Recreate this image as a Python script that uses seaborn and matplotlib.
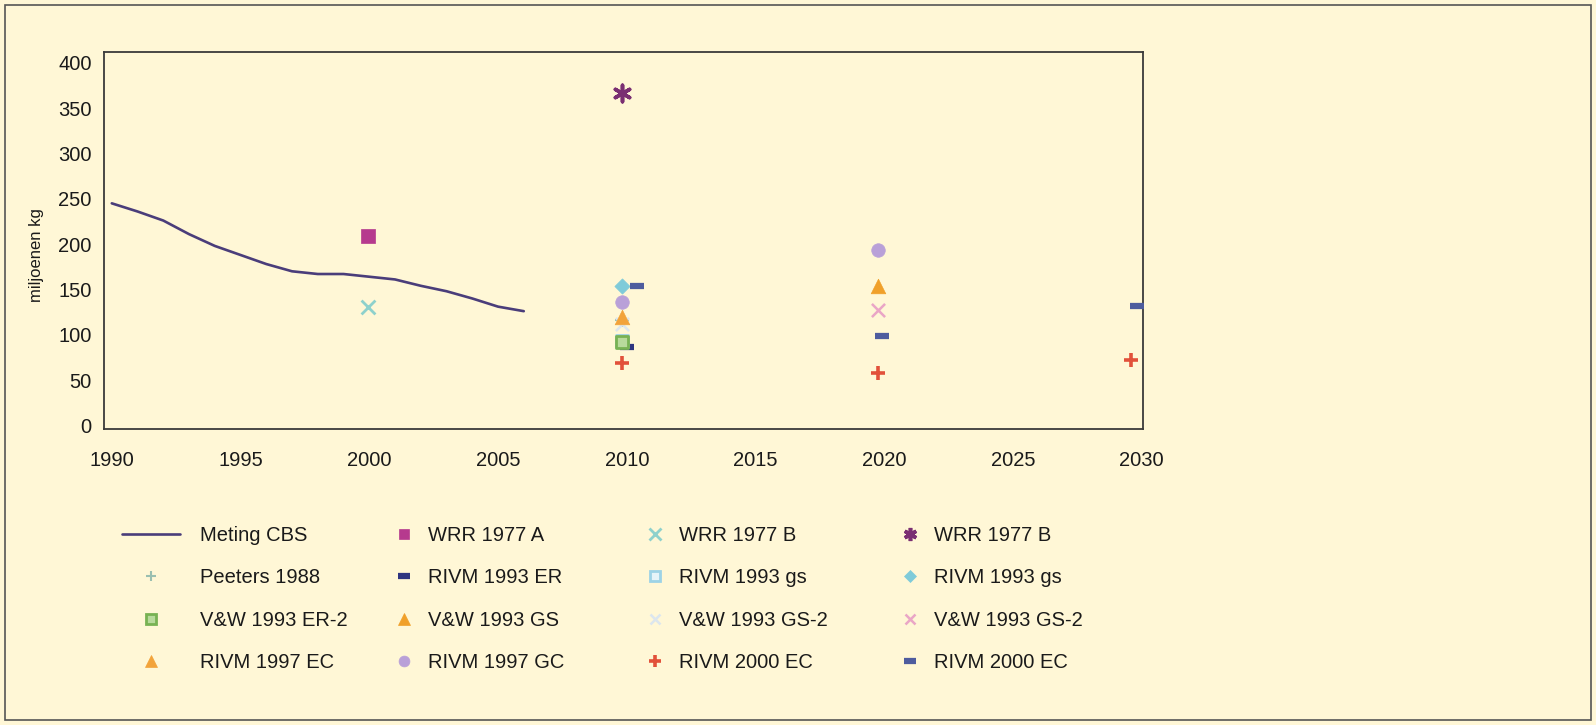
import matplotlib
matplotlib.use("Agg")
import matplotlib.pyplot as plt
import seaborn as sns
from matplotlib.lines import Line2D
from matplotlib.patches import Rectangle

# measured series (Meting CBS)
cbs_years = list(range(1990, 2007))
cbs_values = [245, 236, 226, 211, 198, 188, 178, 170, 167, 167, 164, 161, 154, 148, 140, 131, 126]

# scenario points
wrr_a_x, wrr_a_y = [1999.95], [209]
wrr_b1_x, wrr_b1_y = [1999.95], [131]
wrr_b2_x, wrr_b2_y = [2009.8], [367]
peeters_x, peeters_y = [2009.8], [116]
rivm93_er_x, rivm93_er_y = [2010.0], [86]
rivm93_gs1_x, rivm93_gs1_y = [2009.8], [93]
rivm93_gs2_x, rivm93_gs2_y = [2009.8], [154]
vw93_er2_x, vw93_er2_y = [2009.8], [92]
vw93_gs_x, vw93_gs_y = [2019.75], [154]
vw93_gs2a_x, vw93_gs2a_y = [2009.8], [112]
vw93_gs2b_x, vw93_gs2b_y = [2019.75], [127]
rivm97_ec_x, rivm97_ec_y = [2009.8], [120]
rivm97_gc_x, rivm97_gc_y = [2009.8, 2019.75], [136, 194]
rivm00_ec1_x, rivm00_ec1_y = [2009.8, 2019.75, 2029.6], [69, 58, 72]
rivm00_ec2_x, rivm00_ec2_y = [2010.4, 2019.9, 2029.8], [154, 99, 132]

labels = ["Meting CBS", "WRR 1977 A", "WRR 1977 B", "WRR 1977 B",
          "Peeters 1988", "RIVM 1993 ER", "RIVM 1993 gs", "RIVM 1993 gs",
          "V&W 1993 ER-2", "V&W 1993 GS", "V&W 1993 GS-2", "V&W 1993 GS-2",
          "RIVM 1997 EC", "RIVM 1997 GC", "RIVM 2000 EC", "RIVM 2000 EC"]

bg = "#FFF7D6"
line_col = "#4A3D7A"

# marker styles: (x, y, marker, size, face, edge, lw)
points = [
    (wrr_a_x, wrr_a_y, "s", 88, "#B63A8E", "#B63A8E", 0.5),
    (wrr_b1_x, wrr_b1_y, "x", 100, "#8ED1CC", None, 2.0),
    (wrr_b2_x, wrr_b2_y, (6, 2, 0), 140, "#7A2F72", None, 2.6),
    (peeters_x, peeters_y, "+", 90, "#9ABFB0", None, 1.5),
    (rivm93_er_x, rivm93_er_y, "_", 110, "#2E3580", None, 4.5),
    (rivm93_gs1_x, rivm93_gs1_y, "s", 80, "#E6F4F8", "#9DD3E6", 2.0),
    (rivm93_gs2_x, rivm93_gs2_y, "D", 60, "#7FCBD9", "#7FCBD9", 0.5),
    (vw93_er2_x, vw93_er2_y, "s", 80, "#B8DA9C", "#78B253", 2.0),
    (vw93_gs_x, vw93_gs_y, "^", 110, "#F0A02A", "#F0A02A", 0.5),
    (vw93_gs2a_x, vw93_gs2a_y, "x", 90, "#DCE6EE", None, 1.8),
    (vw93_gs2b_x, vw93_gs2b_y, "x", 90, "#EAA6C6", None, 1.8),
    (rivm97_ec_x, rivm97_ec_y, "^", 110, "#F2A33A", "#F2A33A", 0.5),
    (rivm97_gc_x, rivm97_gc_y, "o", 95, "#B9A0D8", "#B9A0D8", 0.5),
    (rivm00_ec1_x, rivm00_ec1_y, "+", 110, "#E2513A", None, 2.6),
    (rivm00_ec2_x, rivm00_ec2_y, "_", 110, "#4E5C9E", None, 4.5),
]

sns.set_style("white")
plt.rcParams["font.family"] = ["Liberation Sans", "DejaVu Sans"]

fig = plt.figure(figsize=(15.96, 7.25), dpi=100, facecolor=bg)
ax = fig.add_axes([0.0652, 0.4083, 0.6510, 0.5200])
ax.set_facecolor(bg)

sns.lineplot(x=cbs_years, y=cbs_values, color=line_col, linewidth=1.9, ax=ax)

handles = [Line2D([], [], color=line_col, linewidth=1.9)]
for x, y, m, s, fc, ec, lw in points:
    if ec is None:
        sns.scatterplot(x=x, y=y, marker=m, s=s, color=fc, linewidth=lw, ax=ax, zorder=3)
        handles.append(Line2D([], [], linestyle="none", marker=m, markersize=s ** 0.5 * 0.8,
                              color=fc, markeredgewidth=lw))
    else:
        sns.scatterplot(x=x, y=y, marker=m, s=s, color=fc, edgecolor=ec, linewidth=lw, ax=ax, zorder=3)
        handles.append(Line2D([], [], linestyle="none", marker=m, markersize=s ** 0.5 * 0.8,
                              markerfacecolor=fc, markeredgecolor=ec, markeredgewidth=lw))

ax.set_xlim(1989.7, 2030.05)
ax.set_ylim(-4, 412)
ax.set_xticks(range(1990, 2031, 5))
ax.set_yticks(range(0, 401, 50))
ax.tick_params(axis="both", length=0, labelsize=14.5, colors="#1a1a1a")
ax.tick_params(axis="y", pad=9)
ax.tick_params(axis="x", pad=16)
for sp in ax.spines.values():
    sp.set_visible(True)
    sp.set_color("#3a3a3a")
    sp.set_linewidth(1.3)
ax.set_xlabel("")
ax.set_ylabel("miljoenen kg", fontsize=12, color="#1a1a1a")
ax.yaxis.set_label_coords(-0.058, 0.46)

# legend: one block per column
W, H = 1596, 725
leg_font = {"family": ["Liberation Sans Narrow", "Liberation Sans", "DejaVu Sans"], "size": 14.5}
col_x = [122, 394, 645, 900]
for c in range(4):
    idx = [r * 4 + c for r in range(4)]
    hl, pad = (2.9, 0.95) if c == 0 else (1.0, 0.7)
    leg = fig.legend([handles[i] for i in idx], [labels[i] for i in idx],
                     loc="upper left", bbox_to_anchor=(col_x[c] / W, 1 - 526 / H),
                     frameon=False, borderpad=0, borderaxespad=0,
                     handlelength=hl, handletextpad=pad, labelspacing=1.16,
                     prop=leg_font)
    for t in leg.get_texts():
        t.set_color("#1a1a1a")

fig.add_artist(Rectangle((5 / W, 5 / H), 1586 / W, 715 / H, transform=fig.transFigure,
                         fill=False, edgecolor="#555555", linewidth=1.2))

fig.savefig("out.png", dpi=100, facecolor=bg)
